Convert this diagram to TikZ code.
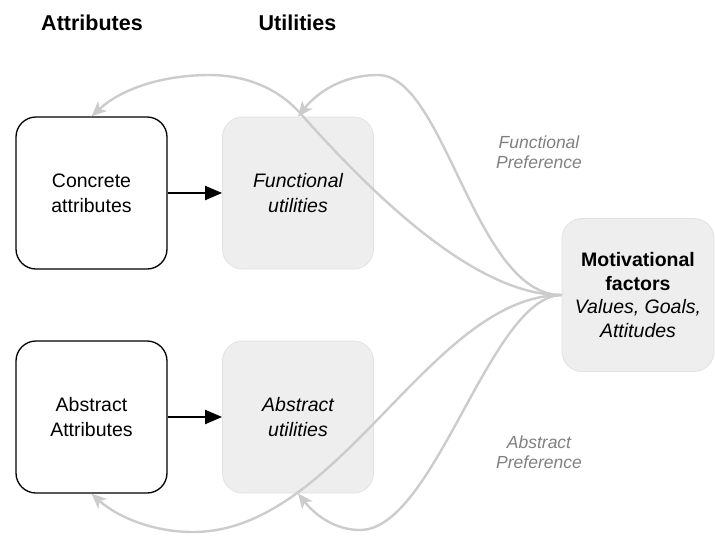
\documentclass[tikz,border=0pt]{standalone}
\usepackage{fontspec}
\setmainfont{Liberation Sans}
\usetikzlibrary{arrows.meta}
\definecolor{boxfill}{HTML}{EEEEEE}
\definecolor{boxedge}{HTML}{E2E2E2}
\definecolor{flowgray}{HTML}{CCCCCC}
\definecolor{labelgray}{HTML}{808080}
\begin{document}
\begin{tikzpicture}[x=1pt,y=-1pt,
  card/.style={rectangle, rounded corners=20pt, minimum width=151pt,
    minimum height=152pt, inner sep=0pt, align=center,
    font=\fontsize{19.5}{25}\selectfont},
  attrbox/.style={card, draw=black, line width=1.3pt, fill=white},
  utilbox/.style={card, draw=boxedge, line width=0.8pt, fill=boxfill},
  header/.style={anchor=base, font=\bfseries\fontsize{21.5}{26}\selectfont},
  prefflow/.style={draw=flowgray, line width=2.4pt,
    -{Stealth[length=15pt,width=13pt,inset=4pt]}},
  linkarrow/.style={draw=black, line width=2pt,
    -{Triangle[length=17pt,width=14pt]}},
  preflabel/.style={font=\itshape\fontsize{17.5}{20}\selectfont,
    text=labelgray, align=center}
]
\useasboundingbox (0,0) rectangle (715,536);

% column headers
\node[header] (hattr) at (92,30) {Attributes};
\node[header] (hutil) at (297.5,30) {Utilities};

% attribute and utility boxes
\node[attrbox] (ca) at (91.5,193) {Concrete\\attributes};
\node[utilbox] (fu) at (298,193) {\itshape Functional\\\itshape utilities};
\node[attrbox] (aa) at (91.5,417) {Abstract\\Attributes};
\node[utilbox] (au) at (298,417) {\itshape Abstract\\\itshape utilities};

% motivational factors
\node[utilbox, minimum width=152pt, minimum height=153pt,
  font=\fontsize{19.5}{23.5}\selectfont] (mot) at (638,295)
  {\textbf{Motivational}\\\textbf{factors}\\\textit{Values, Goals,}\\\textit{Attitudes}};

% preference labels
\node[preflabel] (lfun) at (539,152) {Functional\\Preference};
\node[preflabel] (labs) at (539,452) {Abstract\\Preference};

% attributes lead to utilities
\draw[linkarrow] (ca.east) -- (fu.west);
\draw[linkarrow] (aa.east) -- (au.west);

% preference flows from the motivational factors
\draw[prefflow] (mot.west) .. controls (470,296) and (360,180) .. (300,113)
  .. controls (275,85) and (240,75) .. (210,75)
  .. controls (160,75) and (120,90) .. (ca.north);
\draw[prefflow] (mot.west) .. controls (475,296) and (445,75) .. (378,75)
  .. controls (340,75) and (315,95) .. (fu.north);
\draw[prefflow] (mot.west) .. controls (430,296) and (340,532) .. (193,532)
  .. controls (150,532) and (115,515) .. (aa.south);
\draw[prefflow] (mot.west) .. controls (490,296) and (435,530) .. (360,530)
  .. controls (335,530) and (315,515) .. (au.south);
\end{tikzpicture}
\end{document}
